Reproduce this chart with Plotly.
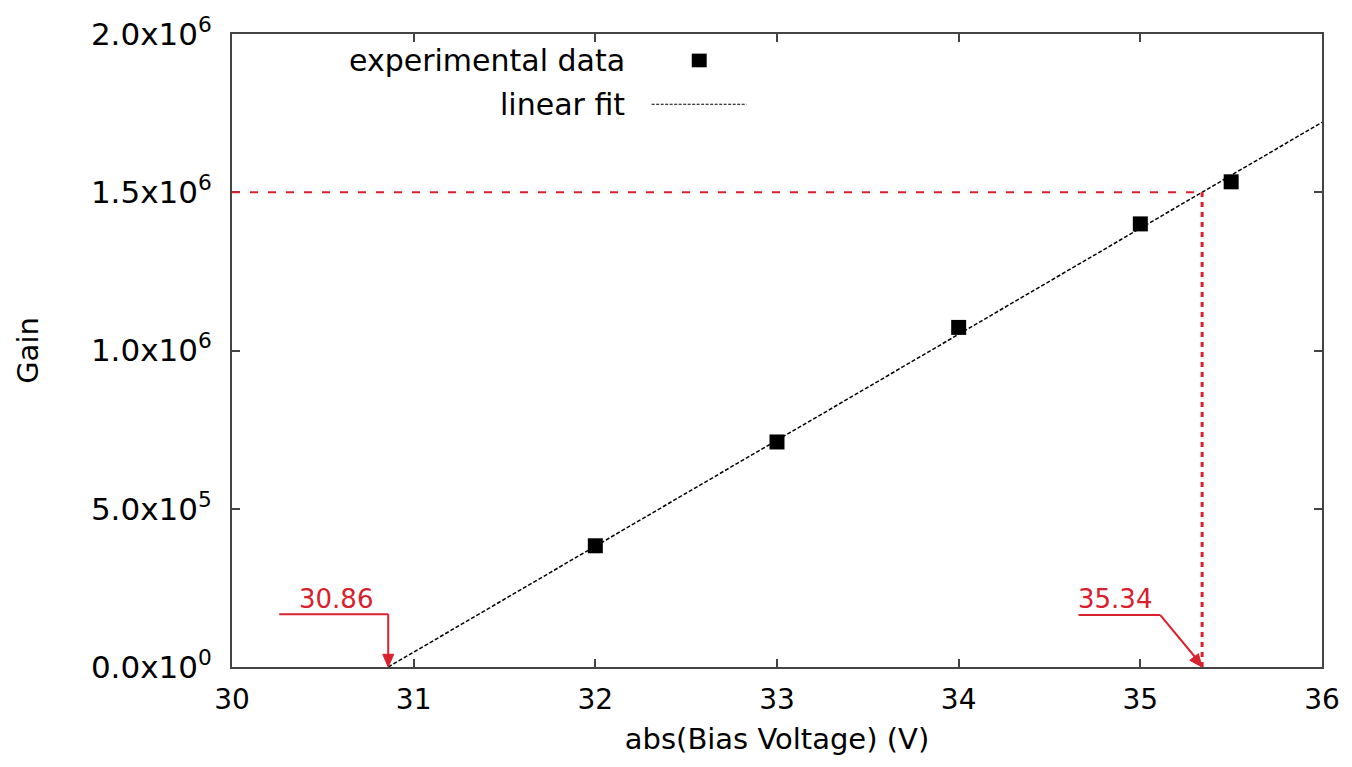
import math
import plotly.graph_objects as go

# ---- data ----
voltage = [32.0, 33.0, 34.0, 35.0, 35.5]
gain = [3.83e5, 7.11e5, 1.073e6, 1.400e6, 1.533e6]

fit_v0 = 30.86        # zero-gain intercept of the linear fit
fit_v_target = 35.34  # voltage at target gain
target_gain = 1.5e6
x_range = [30, 36]
y_range = [0, 2.0e6]

x_ticks = [30, 31, 32, 33, 34, 35, 36]
y_ticks = [0, 5e5, 1.0e6, 1.5e6, 2.0e6]
y_tick_labels = ["0.0x10<sup>0</sup>", "5.0x10<sup>5</sup>", "1.0x10<sup>6</sup>",
                 "1.5x10<sup>6</sup>", "2.0x10<sup>6</sup>"]

slope = target_gain / (fit_v_target - fit_v0)
fit_x = [fit_v0, x_range[1]]
fit_y = [slope * (v - fit_v0) for v in fit_x]

RED = "#d9202e"
FONT = "DejaVu Sans"

W, H = 1352, 762
ML, MR, MT, MB = 232, 27, 28, 87
px_per_x = (W - ML - MR) / (x_range[1] - x_range[0])
px_per_y = (H - MT - MB) / (y_range[1] - y_range[0])


def arrowhead(tail, tip, length=13, half=5.5):
    """Triangle path (data coords) for an arrowhead at tip, pointing from tail."""
    dx = (tip[0] - tail[0]) * px_per_x
    dy = (tip[1] - tail[1]) * px_per_y
    n = math.hypot(dx, dy)
    ux, uy = dx / n, dy / n
    bx, by = -ux * length, -uy * length
    px, py = -uy, ux
    p1 = (tip[0] + (bx + px * half) / px_per_x, tip[1] + (by + py * half) / px_per_y)
    p2 = (tip[0] + (bx - px * half) / px_per_x, tip[1] + (by - py * half) / px_per_y)
    return f"M {tip[0]},{tip[1]} L {p1[0]},{p1[1]} L {p2[0]},{p2[1]} Z"


fig = go.Figure()

fig.add_trace(go.Scatter(x=fit_x, y=fit_y, mode="lines", name="linear fit",
                         line=dict(color="black", width=1.5, dash="4px,2px"),
                         showlegend=False))
fig.add_trace(go.Scatter(x=voltage, y=gain, mode="markers", name="experimental data",
                         marker=dict(symbol="square", size=15, color="black"),
                         showlegend=False))

# red guide lines
fig.add_shape(type="line", xref="x", yref="y", x0=x_range[0], x1=fit_v_target,
              y0=target_gain, y1=target_gain,
              line=dict(color=RED, width=2, dash="8px,10px"))
fig.add_shape(type="line", xref="x", yref="y", x0=fit_v_target, x1=fit_v_target,
              y0=0, y1=target_gain,
              line=dict(color=RED, width=3, dash="5px,5px"))

# bent arrow for 30.86
a1_corner = (fit_v0, 1.67e5)
fig.add_shape(type="line", xref="x", yref="y", x0=30.26, x1=a1_corner[0],
              y0=a1_corner[1], y1=a1_corner[1], line=dict(color=RED, width=2))
fig.add_shape(type="line", xref="x", yref="y", x0=a1_corner[0], x1=fit_v0,
              y0=a1_corner[1], y1=2.0e4, line=dict(color=RED, width=2))
fig.add_shape(type="path", xref="x", yref="y", path=arrowhead(a1_corner, (fit_v0, 0)),
              fillcolor=RED, line=dict(color=RED, width=1))
fig.add_annotation(x=30.57, y=2.15e5, xref="x", yref="y", text=f"{fit_v0:.2f}",
                   showarrow=False, font=dict(family=FONT, size=26, color=RED),
                   xanchor="center", yanchor="middle")

# bent arrow for 35.34
a2_corner = (35.11, 1.64e5)
fig.add_shape(type="line", xref="x", yref="y", x0=34.66, x1=a2_corner[0],
              y0=a2_corner[1], y1=a2_corner[1], line=dict(color=RED, width=2))
fig.add_shape(type="line", xref="x", yref="y", x0=a2_corner[0], x1=35.325,
              y0=a2_corner[1], y1=1.5e4, line=dict(color=RED, width=2))
fig.add_shape(type="path", xref="x", yref="y",
              path=arrowhead(a2_corner, (fit_v_target, 0)),
              fillcolor=RED, line=dict(color=RED, width=1))
fig.add_annotation(x=34.86, y=2.15e5, xref="x", yref="y", text=f"{fit_v_target:.2f}",
                   showarrow=False, font=dict(family=FONT, size=26, color=RED),
                   xanchor="center", yanchor="middle")

# manual gnuplot-style legend (text right, sample left)
fig.add_annotation(x=0.3623, y=0.958, xref="paper", yref="paper", text="experimental data",
                   showarrow=False, xanchor="right", yanchor="middle",
                   font=dict(family=FONT, size=30, color="black"))
fig.add_shape(type="rect", xref="paper", yref="paper", x0=0.4218, x1=0.4355,
              y0=0.9474, y1=0.969, fillcolor="black", line=dict(width=0))
fig.add_annotation(x=0.3623, y=0.889, xref="paper", yref="paper", text="linear fit",
                   showarrow=False, xanchor="right", yanchor="middle",
                   font=dict(family=FONT, size=30, color="black"))
fig.add_shape(type="line", xref="paper", yref="paper", x0=0.385, x1=0.472,
              y0=0.889, y1=0.889, line=dict(color="black", width=1.2, dash="3px,1.5px"))

axis_common = dict(showline=True, linecolor="#444444", linewidth=2, mirror="ticks",
                   ticks="inside", ticklen=8, tickwidth=1.5, tickcolor="#444444",
                   showgrid=False, zeroline=False, ticklabeloverflow="allow")

fig.update_xaxes(range=x_range, tickvals=x_ticks, ticktext=[str(v) for v in x_ticks],
                 tickfont=dict(family=FONT, size=28, color="black"),
                 title=dict(text="abs(Bias Voltage) (V)", standoff=14,
                            font=dict(family=FONT, size=29, color="black")),
                 ticklabelstandoff=6, **axis_common)
fig.update_yaxes(range=y_range, tickvals=y_ticks, ticktext=y_tick_labels,
                 tickfont=dict(family=FONT, size=31, color="black"),
                 title=dict(text="Gain", standoff=44,
                            font=dict(family=FONT, size=29, color="black")),
                 ticklabelstandoff=12, **axis_common)

fig.update_layout(width=W, height=H, paper_bgcolor="white", plot_bgcolor="white",
                  margin=dict(l=ML, r=MR, t=MT, b=MB), showlegend=False)

fig.write_html("out.html", config={"displayModeBar": False},
               post_script="document.body.style.margin='0px';")
